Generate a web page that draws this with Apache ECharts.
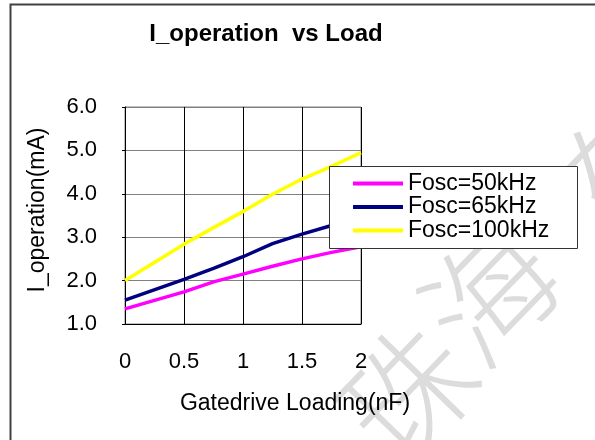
<!DOCTYPE html>
<html>
<head>
<meta charset="utf-8">
<script src="https://cdn.jsdelivr.net/npm/echarts@6/dist/echarts.min.js"></script>
<style>html,body{margin:0;padding:0;background:#fff;}#c{width:595px;height:440px;}</style>
</head>
<body>
<div id="c"></div>
<script>
var loadNF = [0, 0.5, 0.75, 1, 1.25, 1.5, 1.75, 2];
var seriesNames = ['Fosc=50kHz', 'Fosc=65kHz', 'Fosc=100kHz'];
var i50 = [1.35, 1.74, 1.97, 2.15, 2.33, 2.50, 2.65, 2.78];
var i65 = [1.55, 2.03, 2.28, 2.55, 2.85, 3.07, 3.27, 3.48];
var i100 = [2.00, 2.84, 3.22, 3.59, 3.99, 4.34, 4.63, 4.95];
var xTicks = [0, 0.5, 1, 1.5, 2];
var yTicks = [1, 2, 3, 4, 5, 6];
var colors = ['#FF00FF', '#000080', '#FFFF00'];

function pairs(ys) { return loadNF.map(function (x, i) { return [x, ys[i]]; }); }
var font = '"Liberation Sans", Arial, sans-serif';
var wmFont = '300 128px "Noto Sans CJK SC"';
var wmRot = 0.8;

var chart = echarts.init(document.getElementById('c'), null, {renderer: 'canvas'});
chart.setOption({
  animation: false,
  backgroundColor: '#fff',
  color: colors,
  grid: {left: 125, top: 107, right: 234, bottom: 116, show: true, borderColor: '#808080', borderWidth: 1, backgroundColor: 'transparent'},
  xAxis: {
    type: 'value', min: xTicks[0], max: xTicks[xTicks.length - 1], interval: 0.5,
    axisLine: {show: true, lineStyle: {color: '#000', width: 1}},
    axisTick: {show: false},
    splitLine: {show: true, lineStyle: {color: '#000', width: 1}},
    axisLabel: {margin: 27, color: '#000', fontSize: 22, fontFamily: font, formatter: function (v) { return String(v); }}
  },
  yAxis: {
    type: 'value', min: yTicks[0], max: yTicks[yTicks.length - 1], interval: 1,
    axisLine: {show: true, lineStyle: {color: '#000', width: 1}},
    axisTick: {show: true, length: 3, inside: false, lineStyle: {color: '#000'}},
    splitLine: {show: true, lineStyle: {color: '#808080', width: 1}},
    axisLabel: {margin: 28, color: '#000', fontSize: 22, fontFamily: font, formatter: function (v) { return v.toFixed(1); }}
  },
  legend: {
    orient: 'vertical', left: 353, top: 172, padding: 0, itemWidth: 50, itemHeight: 4, itemGap: 0.5,
    icon: 'rect', z: 6,
    textStyle: {fontSize: 23, lineHeight: 22, fontFamily: font, color: '#000', padding: [0, 0, 0, 0]},
    data: seriesNames
  },
  series: [
    {name: seriesNames[0], type: 'line', data: pairs(i50), showSymbol: false, lineStyle: {width: 3.5, color: colors[0]}, z: 2},
    {name: seriesNames[1], type: 'line', data: pairs(i65), showSymbol: false, lineStyle: {width: 3.5, color: colors[1]}, z: 2},
    {name: seriesNames[2], type: 'line', data: pairs(i100), showSymbol: false, lineStyle: {width: 3.5, color: colors[2]}, z: 2}
  ],
  graphic: [
    {type: 'rect', z: 0, shape: {x: 10.5, y: 4.5, width: 620, height: 470}, style: {fill: 'none', stroke: '#404040', lineWidth: 2}},
    {type: 'text', z: 1, x: 407, y: 392, rotation: wmRot, style: {text: '珠', fill: '#dcdcdc', font: wmFont, textAlign: 'center', textVerticalAlign: 'middle'}},
    {type: 'text', z: 1, x: 490, y: 294, rotation: wmRot, style: {text: '海', fill: '#dcdcdc', font: wmFont, textAlign: 'center', textVerticalAlign: 'middle'}},
    {type: 'text', z: 1, x: 622, y: 168, rotation: wmRot, style: {text: '东', fill: '#dcdcdc', font: wmFont, textAlign: 'center', textVerticalAlign: 'middle'}},
    {type: 'rect', z: 5, shape: {x: 329.5, y: 166.5, width: 248, height: 82}, style: {fill: '#fff', stroke: '#333', lineWidth: 1}},
    {type: 'text', z: 5, x: 266, y: 34, style: {text: 'I_operation  vs Load', fill: '#000', font: 'bold 24px ' + font, textAlign: 'center', textVerticalAlign: 'middle'}},
    {type: 'text', z: 5, x: 295, y: 404, style: {text: 'Gatedrive Loading(nF)', fill: '#000', font: '23px ' + font, textAlign: 'center', textVerticalAlign: 'middle'}},
    {type: 'text', z: 5, x: 38, y: 210, rotation: Math.PI / 2, style: {text: 'I_operation(mA)', fill: '#000', font: '23px ' + font, textAlign: 'center', textVerticalAlign: 'middle'}}
  ]
});
</script>
</body>
</html>
